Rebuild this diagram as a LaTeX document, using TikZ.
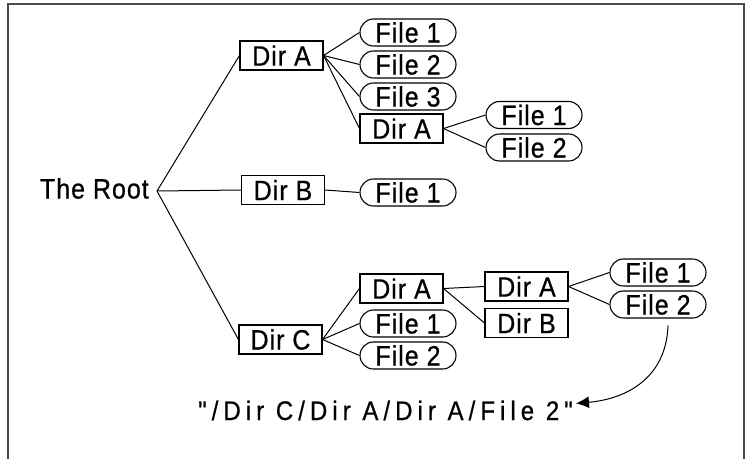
\documentclass[tikz,border=0pt]{standalone}
\usepackage{graphicx}
\usepackage{fontspec}
\setmainfont[LetterSpace=4,FakeBold=0.7]{Liberation Sans}
\newfontfamily\pathfont[LetterSpace=21,FakeBold=0.7,Ligatures=TeXOff]{Liberation Sans}
\newcommand\tallt[1]{\scalebox{1}[1.12]{#1}}
\usetikzlibrary{arrows.meta,calc}
\begin{document}
\begin{tikzpicture}[x=1pt,y=-1pt,
  txt/.style={font=\fontsize{25}{29}\selectfont},
  dirbox/.style={txt,draw,line width=1.1pt,minimum width=83pt,minimum height=29pt,inner sep=0pt},
  filebox/.style={txt,draw,line width=1.1pt,rounded corners=13.5pt,minimum width=96pt,minimum height=27pt,inner sep=0pt},
  edge/.style={line width=1pt}]
\useasboundingbox (0,0) rectangle (746,458);
\draw[line width=2pt, draw=black!70] (8,460) -- (8,4) -- (744,4) -- (744,460);

\node[txt,anchor=east,inner xsep=8pt,inner ysep=0pt] (root) at (157,188.5) {\tallt{The Root}};
\coordinate (rj) at ($(root.east)+(0,2.5)$);

\node[dirbox] (da) at (281.5,55.5) {\tallt{Dir A}};
\node[filebox] (daf1) at (408,32.5) {\tallt{File 1}};
\node[filebox] (daf2) at (408,64.5) {\tallt{File 2}};
\node[filebox] (daf3) at (408,96.5) {\tallt{File 3}};
\node[dirbox] (daa) at (401.5,128.5) {\tallt{Dir A}};
\node[filebox] (daaf1) at (534,115) {\tallt{File 1}};
\node[filebox] (daaf2) at (534,147.5) {\tallt{File 2}};

\node[dirbox] (db) at (283,190) {\tallt{Dir B}};
\node[filebox] (dbf1) at (408,192.5) {\tallt{File 1}};

\node[dirbox] (dc) at (280.5,339.5) {\tallt{Dir C}};
\node[dirbox] (dca) at (401.5,288.5) {\tallt{Dir A}};
\node[filebox] (dcf1) at (408,323.5) {\tallt{File 1}};
\node[filebox] (dcf2) at (408,355.5) {\tallt{File 2}};
\node[dirbox] (dcaa) at (526.5,286.5) {\tallt{Dir A}};
\node[dirbox] (dcab) at (526.5,323) {\tallt{Dir B}};
\node[filebox] (dcaaf1) at (658,272.5) {\tallt{File 1}};
\node[filebox] (dcaaf2) at (658,304.5) {\tallt{File 2}};

\node[font=\pathfont\fontsize{24}{28}\selectfont,anchor=base west,inner sep=0pt] (path) at (198,420) {\tallt{"/Dir C/Dir A/Dir A/File 2"}};

\draw[edge] (rj) -- (da.west);
\draw[edge] (rj) -- (db.west);
\draw[edge] (rj) -- (dc.west);
\draw[edge] (da.east) -- (daf1.west);
\draw[edge] (da.east) -- (daf2.west);
\draw[edge] (da.east) -- (daf3.west);
\draw[edge] (da.east) -- (daa.west);
\draw[edge] (daa.east) -- (daaf1.west);
\draw[edge] (daa.east) -- (daaf2.west);
\draw[edge] (db.east) -- (dbf1.west);
\draw[edge] (dc.east) -- (dca.west);
\draw[edge] (dc.east) -- (dcf1.west);
\draw[edge] (dc.east) -- (dcf2.west);
\draw[edge] (dca.east) -- (dcaa.west);
\draw[edge] (dca.east) -- (dcab.west);
\draw[edge] (dcaa.east) -- (dcaaf1.west);
\draw[edge] (dcaa.east) -- (dcaaf2.west);

\coordinate (as) at ($(dcaaf2.south)+(10,7)$);
\coordinate (ae) at ($(path.east)+(3,-7)$);
\draw[edge,-{Latex[length=13pt,width=12pt]}] (as) to[out=-92,in=5,looseness=1.1] (ae);
\end{tikzpicture}
\end{document}
